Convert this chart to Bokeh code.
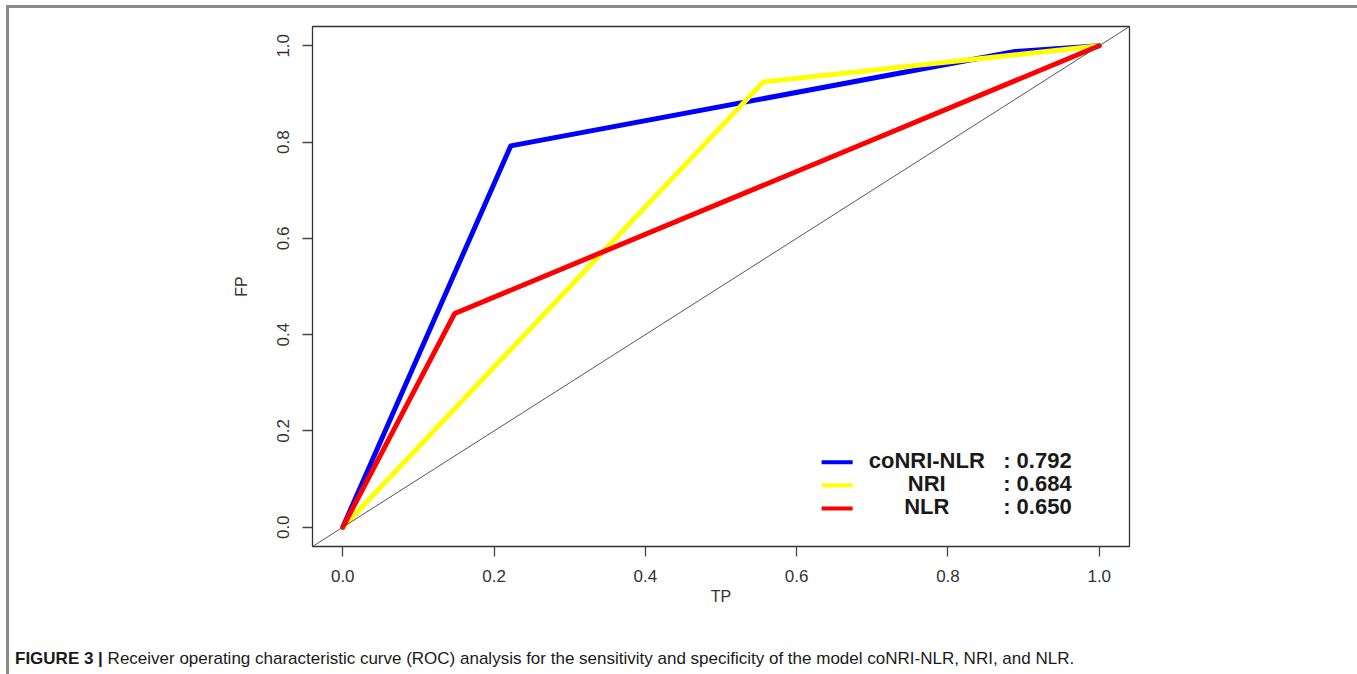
import math
from bokeh.plotting import figure
from bokeh.layouts import column
from bokeh.models import Range1d, FixedTicker, NumeralTickFormatter, Slope, Div
from bokeh.core.properties import value
from bokeh.embed import file_html
from bokeh.resources import INLINE

# ---- data ----
conri_nlr_fp = [0.0, 0.222, 0.889, 1.0]
conri_nlr_tp = [0.0, 0.792, 0.988, 1.0]
nri_fp = [0.0, 0.556, 1.0]
nri_tp = [0.0, 0.925, 1.0]
nlr_fp = [0.0, 0.148, 1.0]
nlr_tp = [0.0, 0.444, 1.0]
model_names = ["coNRI-NLR", "NRI", "NLR"]
model_auc = [0.792, 0.684, 0.650]
model_colors = ["#0000ff", "#ffff00", "#ff0000"]
tick_values = [0.0, 0.2, 0.4, 0.6, 0.8, 1.0]
caption_bold = "FIGURE 3 |"
caption_text = ("Receiver operating characteristic curve (ROC) analysis for the sensitivity "
                "and specificity of the model coNRI-NLR, NRI, and NLR.")

FONT = "Liberation Sans"
GRAY = "#8a8a8a"

p = figure(frame_width=817, frame_height=520,
           min_border_left=303, min_border_right=224,
           min_border_top=18, min_border_bottom=94,
           x_range=Range1d(-0.04, 1.04), y_range=Range1d(-0.04, 1.04),
           output_backend="svg", toolbar_location=None,
           x_axis_label="TP", y_axis_label="FP")

p.background_fill_color = "white"
p.border_fill_color = "white"
p.outline_line_color = "#333333"
p.outline_line_width = 1.3
p.xgrid.visible = False
p.ygrid.visible = False

for ax in (p.xaxis[0], p.yaxis[0]):
    ax.ticker = FixedTicker(ticks=tick_values)
    ax.formatter = NumeralTickFormatter(format="0.0")
    ax.axis_line_color = None
    ax.major_tick_line_color = "#444444"
    ax.major_tick_line_width = 1.3
    ax.major_tick_out = 10
    ax.major_tick_in = 0
    ax.minor_tick_line_color = None
    ax.major_label_text_font = FONT
    ax.major_label_text_font_size = "17px"
    ax.major_label_text_color = "#333333"
    ax.axis_label_text_font = FONT
    ax.axis_label_text_font_size = "16px"
    ax.axis_label_text_font_style = "normal"
    ax.axis_label_text_color = "#333333"

p.xaxis[0].major_label_standoff = 13
p.xaxis[0].axis_label_standoff = 3
p.yaxis[0].major_label_orientation = "vertical"
p.yaxis[0].major_label_standoff = 13
p.yaxis[0].axis_label_standoff = 25

# diagonal reference
p.add_layout(Slope(gradient=1, y_intercept=0, line_color="#555555", line_width=1))

series = [(conri_nlr_fp, conri_nlr_tp), (nri_fp, nri_tp), (nlr_fp, nlr_tp)]
for (xs, ys), c in zip(series, model_colors):
    p.line(xs, ys, line_color=c, line_width=5, line_join="round", line_cap="round")

# legend (R style, no box)
leg_top, leg_step = 0.135, 0.048
leg_x0, leg_x1, leg_name_x, leg_val_x = 0.633, 0.674, 0.772, 0.873
leg_y = [leg_top - i * leg_step for i in range(len(model_names))]
p.segment(x0=[leg_x0] * 3, x1=[leg_x1] * 3, y0=leg_y, y1=leg_y,
          line_color=model_colors, line_width=4)
p.text(x=[leg_name_x] * 3, y=[v + 0.004 for v in leg_y], text=model_names,
       text_font=value(FONT), text_font_style="bold", text_font_size="22px",
       text_align="center", text_baseline="middle", text_color="#1a1a1a")
p.text(x=[leg_val_x] * 3, y=[v + 0.004 for v in leg_y],
       text=[": %.3f" % a for a in model_auc],
       text_font=value(FONT), text_font_style="bold", text_font_size="22px",
       text_align="left", text_baseline="middle", text_color="#1a1a1a")

cap = Div(text=('<div style="font-family: \'Liberation Sans\'; font-size: 17px; color: #1a1a1a; '
                'line-height: 20px; padding: 4px 0 0 1px; white-space: nowrap;">'
                '<span style="font-weight: bold;">%s</span> %s</div>'
                % (caption_bold, caption_text)),
          width=1344, height=28)

layout = column(p, cap, spacing=0,
                styles={"margin-left": "6px", "margin-top": "5px",
                        "border-top": "3px solid " + GRAY,
                        "border-left": "3px solid " + GRAY,
                        "border-right": "3px solid " + GRAY})

open("out.html", "w").write(file_html(layout, INLINE))
